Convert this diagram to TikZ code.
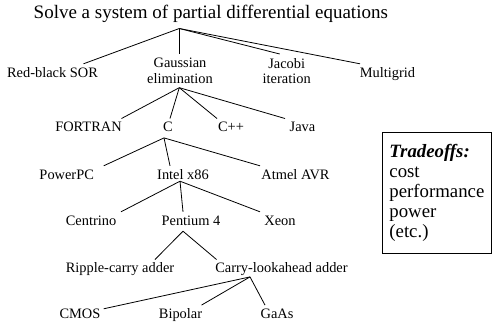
\documentclass[tikz,border=0pt]{standalone}
\usepackage{fontspec}
\setmainfont{Liberation Serif}
\usepackage{tikz}
\tikzset{lbl/.style={font=\fontsize{14.4}{15.6}\selectfont, inner xsep=1pt, inner ysep=3pt, text height=10pt, text depth=3pt, anchor=base},
  lbltwo/.style={font=\fontsize{14.4}{15.6}\selectfont, align=center, inner xsep=1pt, inner ysep=4pt, anchor=north},
  branch/.style={line width=0.8pt}}

\begin{document}
\begin{tikzpicture}[x=1pt, y=-1pt]
        \useasboundingbox (0,0) rectangle (492,325);
        % Root problem
        \node (pde) at (210.8,18.5) [font=\fontsize{19}{22}\selectfont, anchor=base, inner xsep=0pt, inner ysep=5.8pt, text depth=4pt] {Solve a system of partial differential equations};

        % Algorithms
        \node (red) at (52.5,77) [lbl] {Red-black SOR};
        \node (gauss) at (180,54) [lbltwo] {Gaussian\\elimination};
        \node (jacobi) at (286.7,54) [lbltwo] {Jacobi\\iteration};
        \node (multi) at (387.5,77) [lbl] {Multigrid};
        \draw[branch] ([xshift=-31.5pt]pde.south) -- ([xshift=31pt]red.north);
        \draw[branch] ([xshift=-31.5pt]pde.south) -- ([xshift=-0.7pt]gauss.north);
        \draw[branch] ([xshift=-31.5pt]pde.south) -- ([xshift=-7pt]jacobi.north);
        \draw[branch] ([xshift=-31.5pt]pde.south) -- ([xshift=-27.5pt]multi.north);

        % Languages
        \node (fortran) at (88.5,131.7) [lbl] {FORTRAN};
        \node (c) at (168,131.7) [lbl] {C};
        \node (cpp) at (231,131.7) [lbl] {C++};
        \node (java) at (302.5,131.7) [lbl] {Java};
        \draw[branch] ([xshift=-0.7pt]gauss.south) -- ([xshift=33pt]fortran.north);
        \draw[branch] ([xshift=-0.7pt]gauss.south) -- ([xshift=2pt]c.north);
        \draw[branch] ([xshift=-0.7pt]gauss.south) -- ([xshift=-14pt]cpp.north);
        \draw[branch] ([xshift=-0.7pt]gauss.south) -- ([xshift=-17.5pt]java.north);

        % Processors
        \node (ppc) at (66.7,179) [lbl] {PowerPC};
        \node (intel) at (183,179) [lbl] {Intel x86};
        \node (avr) at (295.5,179) [lbl] {Atmel AVR};
        \draw[branch] ([xshift=-4pt]c.south) -- ([xshift=37pt]ppc.north);
        \draw[branch] ([xshift=-4pt]c.south) -- ([xshift=-13pt]intel.north);
        \draw[branch] ([xshift=-4pt]c.south) -- ([xshift=-35.5pt]avr.north);

        % Intel chips
        \node (centrino) at (91,225) [lbl] {Centrino};
        \node (p4) at (191,225) [lbl] {Pentium 4};
        \node (xeon) at (280,225) [lbl] {Xeon};
        \draw[branch] ([shift={(-3pt,4pt)}]intel.south) -- ([xshift=30pt]centrino.north);
        \draw[branch] ([shift={(-3pt,4pt)}]intel.south) -- ([xshift=-8pt]p4.north);
        \draw[branch] ([shift={(-3pt,4pt)}]intel.south) -- ([xshift=-20pt]xeon.north);

        % Adders
        \node (ripple) at (120,272.7) [lbl] {Ripple-carry adder};
        \node (cla) at (281.5,272.7) [lbl] {Carry-lookahead adder};
        \draw[branch] ([xshift=-8pt]p4.south) -- ([xshift=35pt]ripple.north);
        \draw[branch] ([xshift=-8pt]p4.south) -- ([xshift=-65pt]cla.north);

        % Technologies
        \node (cmos) at (80,318.3) [lbl] {CMOS};
        \node (bipolar) at (180.5,318.3) [lbl] {Bipolar};
        \node (gaas) at (277,318.3) [lbl] {GaAs};
        \draw[branch] ([shift={(-31.5pt,2pt)}]cla.south) -- ([shift={(2pt,6pt)}]cmos.east);
        \draw[branch] ([shift={(-31.5pt,2pt)}]cla.south) -- ([xshift=21pt]bipolar.north);
        \draw[branch] ([shift={(-31.5pt,2pt)}]cla.south) -- ([xshift=-12pt]gaas.north);

        % Tradeoffs box
        \node (trade) at (382,132) [draw, line width=0.8pt, anchor=north west, align=left, text width=95pt, inner xsep=7pt, inner ysep=10pt, minimum height=121pt, font=\fontsize{18.8}{20}\selectfont] {\textbf{\textit{Tradeoffs:}}\\cost\\performance\\power\\(etc.)};
    \end{tikzpicture}
\end{document}
